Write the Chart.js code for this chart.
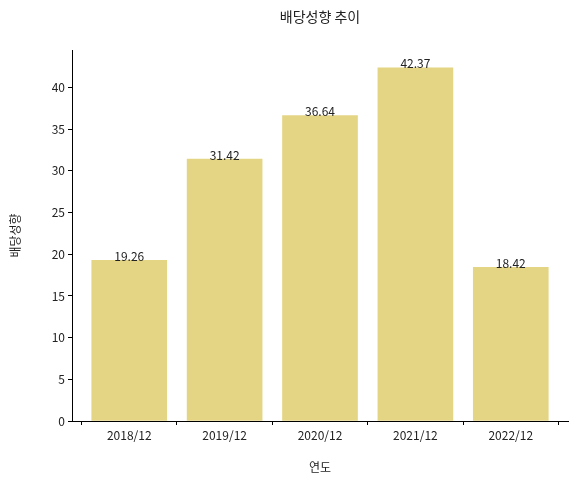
<!DOCTYPE html>
<html><head><meta charset="utf-8">
<script src="https://cdn.jsdelivr.net/npm/chart.js@4"></script>
<style>body{margin:0;background:#fff}</style>
</head><body>
<canvas id="c" width="578" height="479"></canvas>
<script>
const years = ['2018/12', '2019/12', '2020/12', '2021/12', '2022/12'];
const payout = [19.26, 31.42, 36.64, 42.37, 18.42];
const yTicks = [0, 5, 10, 15, 20, 25, 30, 35, 40];

const font = "'Noto Sans CJK KR', 'Noto Sans', sans-serif";

const labelPlugin = {
  id: 'labels',
  afterDatasetsDraw(chart) {
    const ctx = chart.ctx;
    const meta = chart.getDatasetMeta(0);
    ctx.save();
    ctx.font = '12px ' + font;
    ctx.fillStyle = '#222';
    ctx.textAlign = 'center';
    ctx.textBaseline = 'bottom';
    meta.data.forEach((bar, i) => {
      ctx.fillText(payout[i].toFixed(2), bar.x, bar.y + 2);
    });
    ctx.font = '14px ' + font;
    ctx.textBaseline = 'middle';
    ctx.fillText('배당성향 추이', (chart.chartArea.left + chart.chartArea.right) / 2, 17);
    ctx.restore();
  }
};

new Chart(document.getElementById('c'), {
  type: 'bar',
  data: {
    datasets: [{
      data: payout.map((v, i) => ({ x: i, y: v })),
      backgroundColor: '#e4d584',
      barThickness: 75
    }]
  },
  options: {
    responsive: false,
    animation: false,
    layout: { padding: { top: 50, right: 10, left: 4, bottom: 0 } },
    plugins: { legend: { display: false }, tooltip: { enabled: false } },
    scales: {
      x: {
        type: 'linear',
        min: -0.6, max: 4.6,
        offset: false,
        afterBuildTicks(s) { s.ticks = years.map((y, i) => ({ value: i })); },
        grid: { drawOnChartArea: false, tickLength: 4, color: '#000' },
        border: { color: '#000' },
        ticks: { color: '#222', font: { family: font, size: 12 }, callback: v => years[v] },
        title: { display: true, text: '연도', color: '#222', font: { family: font, size: 12 } },
        afterFit(s) { s.height = 58; }
      },
      y: {
        min: 0, max: 44.5,
        afterBuildTicks(s) { s.ticks = yTicks.map(v => ({ value: v })); },
        grid: { drawOnChartArea: false, tickLength: 4, color: '#000' },
        border: { color: '#000' },
        ticks: { color: '#222', font: { family: font, size: 12 } },
        title: { display: true, text: '배당성향', color: '#222', font: { family: font, size: 12 } },
        afterFit(s) { s.width = 68; }
      }
    }
  },
  plugins: [labelPlugin]
});
</script>
</body></html>
